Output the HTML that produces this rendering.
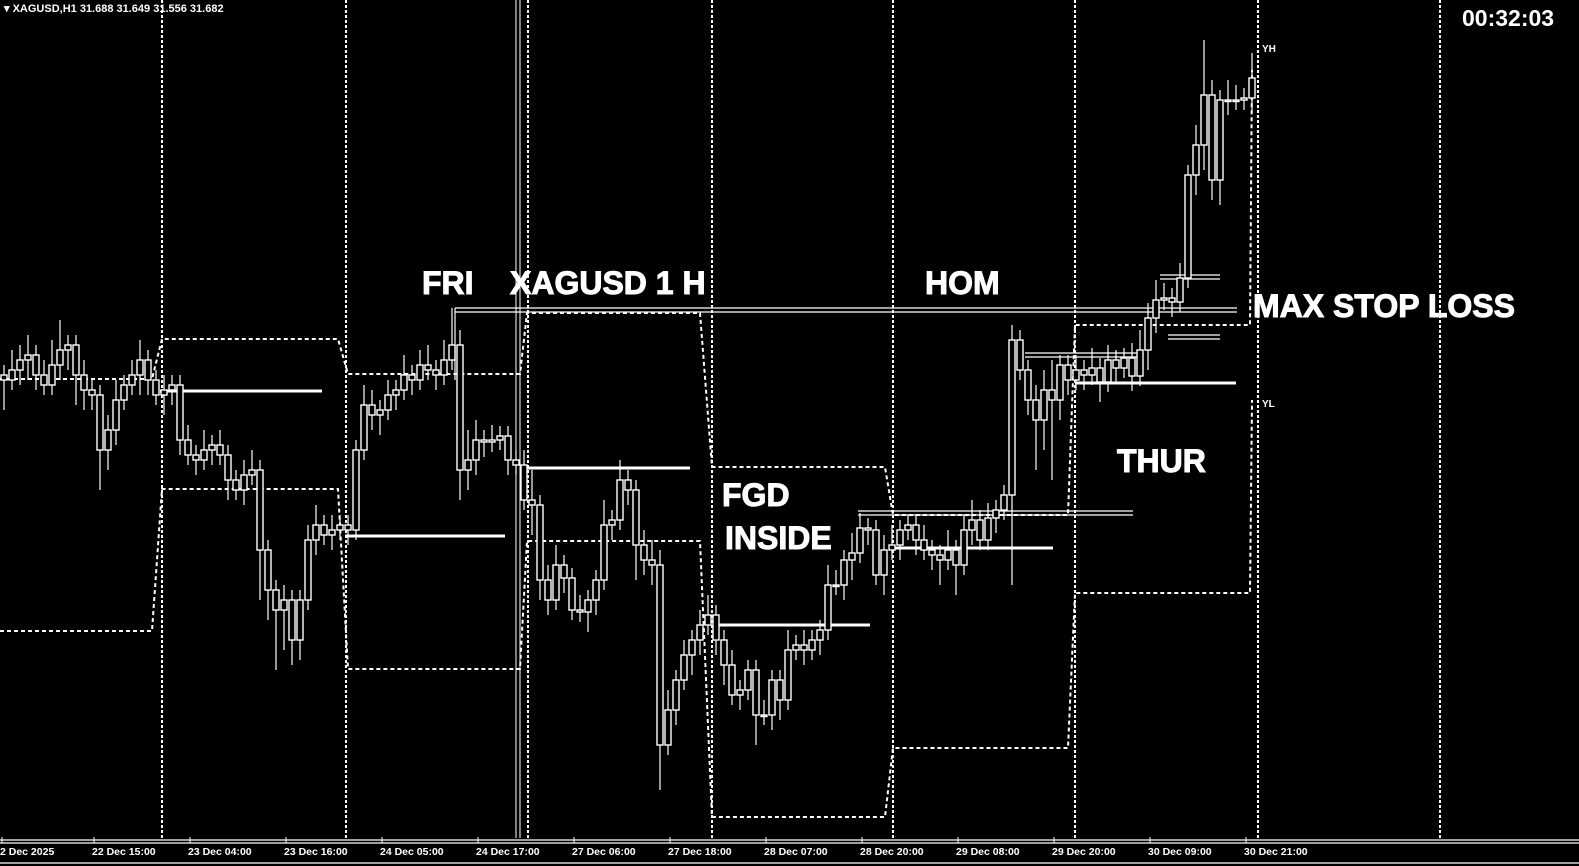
<!DOCTYPE html>
<html><head><meta charset="utf-8">
<style>
html,body{margin:0;padding:0;background:#000;width:1579px;height:866px;overflow:hidden}
svg{display:block}
.lbl{font-family:"Liberation Sans",sans-serif;font-weight:bold;fill:#fff}
.big{stroke:#fff;stroke-width:1}
</style></head>
<body>
<svg id="chart" width="1579" height="866" viewBox="0 0 1579 866" xmlns="http://www.w3.org/2000/svg">
<rect width="1579" height="866" fill="#000"/>
<g id="grid" stroke="#fff" stroke-width="2" stroke-dasharray="3,2">
<line x1="162" y1="0" x2="162" y2="838"/><line x1="346" y1="0" x2="346" y2="838"/>
<line x1="528" y1="0" x2="528" y2="838"/><line x1="712" y1="0" x2="712" y2="838"/>
<line x1="893" y1="0" x2="893" y2="838"/><line x1="1075" y1="0" x2="1075" y2="838"/>
<line x1="1258" y1="0" x2="1258" y2="838"/><line x1="1440" y1="0" x2="1440" y2="838"/>
</g>
<g stroke="#fff" stroke-width="1">
<line x1="516" y1="0" x2="516" y2="838"/><line x1="520" y1="0" x2="520" y2="838"/>
</g>
<g fill="none" stroke="#fff" stroke-width="2" stroke-dasharray="4,3">
<polyline points="0,379 152,379 162,339 338,339 348,374 520,374 527,313 700,313 712,467 885,467 893,515 1068,515 1075,325 1250,325 1252,70"/>
<polyline points="0,631 152,631 162,489 338,489 348,669 520,669 527,541 700,541 712,817 885,817 893,748 1068,748 1075,593 1250,593 1252,400"/>
</g>
<g stroke="#fff" stroke-width="3">
<line x1="160" y1="391" x2="322" y2="391"/><line x1="345" y1="536" x2="505" y2="536"/>
<line x1="520" y1="468" x2="690" y2="468"/><line x1="714" y1="625" x2="870" y2="625"/>
<line x1="893" y1="548" x2="1053" y2="548"/><line x1="1075" y1="383" x2="1236" y2="383"/>
</g>
<g stroke="#fff" stroke-width="1.2" fill="none">
<line x1="455" y1="308" x2="1237" y2="308"/><line x1="455" y1="312" x2="1237" y2="312"/>
<line x1="455" y1="308" x2="455" y2="380"/>
<line x1="858" y1="511" x2="1133" y2="511"/><line x1="858" y1="515" x2="1133" y2="515"/>
<line x1="1025" y1="353" x2="1140" y2="353"/><line x1="1025" y1="357" x2="1140" y2="357"/>
<line x1="1160" y1="275" x2="1220" y2="275"/><line x1="1160" y1="279" x2="1220" y2="279"/>
<line x1="1168" y1="335" x2="1220" y2="335"/><line x1="1168" y1="339" x2="1220" y2="339"/>
</g>
<g id="candles"></g>
<text class="lbl big" x="422" y="294" font-size="32">FRI</text>
<text class="lbl big" x="510" y="294" font-size="32">XAGUSD 1 H</text>
<text class="lbl big" x="925" y="294" font-size="32">HOM</text>
<text class="lbl big" x="1253" y="317" font-size="32">MAX STOP LOSS</text>
<text class="lbl big" x="1117" y="472" font-size="32">THUR</text>
<text class="lbl big" x="722" y="506" font-size="32">FGD</text>
<text class="lbl big" x="725" y="549" font-size="32">INSIDE</text>
<text class="lbl" x="1262" y="52" font-size="10">YH</text>
<text class="lbl" x="1262" y="407" font-size="10">YL</text>
<text class="lbl" x="4" y="12" font-size="11">▾ XAGUSD,H1  31.688 31.649 31.556 31.682</text>
<text class="lbl" x="1462" y="26" font-size="23">00:32:03</text>
<g stroke="#fff" stroke-width="1.2">
<line x1="0" y1="840" x2="1579" y2="840"/><line x1="0" y1="843" x2="1579" y2="843"/>
<line x1="0" y1="863" x2="1579" y2="863"/>
</g>
<g id="xticks"></g>
</svg>
<script>
const closes=[62.0,63.0,64.0,64.5,62.5,61.5,63.5,65.0,65.5,62.5,61.0,60.5,55.0,57.0,60.0,61.5,62.5,64.0,62.0,60.5,
61.0,61.5,56.0,54.5,54.0,55.0,55.5,54.5,52.0,51.0,52.5,53.0,45.0,41.0,39.0,40.0,36.0,40.0,46.0,47.5,
46.5,47.0,47.5,47.0,55.0,59.5,58.5,59.0,60.5,61.0,62.5,62.0,63.5,63.0,62.5,64.0,65.5,53.0,54.0,56.0,
55.8,56.0,56.4,54.0,53.5,50.0,49.5,42.0,40.0,43.5,42.2,39.0,38.8,40.0,42.0,47.5,48.0,52.0,51.0,45.5,
44.0,43.5,25.5,29.0,32.0,34.5,36.0,37.5,38.5,36.0,33.5,30.5,31.0,33.0,28.5,28.5,32.0,30.0,35.0,35.5,
35.0,36.0,37.0,41.5,41.5,44.0,44.7,47.2,47.0,42.5,45.0,45.5,47.0,47.5,46.0,45.0,44.5,44.0,45.0,43.5,
47.0,48.0,46.0,48.2,49.0,50.5,66.0,63.0,60.0,58.0,61.0,60.0,63.5,62.0,63.0,62.5,63.2,61.8,64.0,63.2,
64.2,62.4,65.0,68.2,70.0,70.2,69.8,72.2,82.5,85.5,90.5,82.0,90.0,90.0,90.0,90.2,92.2];
const upWick=[1,2,1.5,2,1,1.5,2.5,3,1,1,1.5,1,1,1.5,2,1,1.5,2,1,1,
1.5,1,1,1.5,1,2,1,1.5,1,1,1.5,2,1,1,1,1.5,1,1,1.5,2,
1,1.5,1,1,1,2,1.5,1,1.5,1,2,1,1.5,2,1,2,3.7,1.5,3,2,
1,1.5,1,1,1,1.5,3,1,1.5,2,1,1,1.5,1,1,2.5,1,2,1,1,
1.5,2,1.5,2,1,1.5,1,1.5,2,1,1,1.5,1,1,1,1.5,1,1,2,1,
1.5,1,1,2,1.5,1,2,1.5,1,1,1.5,2,1,1,1,1.5,1,1,2,1,
1.5,2,1,1.5,1,1,1.5,1,1,1.5,2,3,1,1,1.5,1,2,1,1.5,1,
1,1.5,2,1.5,2,1.5,1,1.5,1,2,5.5,1.5,1,2,1.5,1,2.5];
const downWick=[3,1,1.5,2,1.5,1,1,1.5,2,3,2,1.5,4,2,1.5,1,1,2,1.5,1,
2,1.5,1.5,1,1.5,1,1.5,1,2,1,1.5,1,5,3,6,4,2.5,2,1,1.5,
1,1.5,1,1.5,1,1,1.5,2,1,1.5,1,1.5,1,1,1.5,1,1,3,2,1.5,
1.5,1,1,1.5,1,1,3,2,1.5,1,1.5,1,1,2,1.5,1,1.5,1,1.5,3.5,
1.5,2,4.5,1,1.5,1,2,1.5,1,1.5,2,1,1.5,1,3,1,1.5,2,1,1,
1.5,1,1.5,1,1,1.5,2,1,1.5,1,2,1,1.5,1,1.5,1,1.5,2.5,1,3,
1,1.5,1,1,1.5,1,9,1,1.5,5,3,8,2,1.5,1,1.5,1,2,1,1.5,
1,1.5,1,2,1.5,1,1.5,1,1,2,2.5,2,2.5,1.5,1,1,1.5];
const firstOpen=62.5;
const tickLabels=["2 Dec 2025","22 Dec 15:00","23 Dec 04:00","23 Dec 16:00","24 Dec 05:00","24 Dec 17:00","27 Dec 06:00","27 Dec 18:00","28 Dec 07:00","28 Dec 20:00","29 Dec 08:00","29 Dec 20:00","30 Dec 09:00","30 Dec 21:00"];
const tickIndex=[-0.5,11,23,35,47,59,71,83,95,107,119,131,143,155];

const NS="http://www.w3.org/2000/svg";
function xPos(i){return 4+i*8;}
function yPos(p){return (100-p)*10;}
const g=document.getElementById('candles');
for(let i=0;i<closes.length;i++){
  const o=i===0?firstOpen:closes[i-1], c=closes[i];
  const top=Math.max(o,c), bot=Math.min(o,c);
  const hi=top+upWick[i], lo=bot-downWick[i];
  const x=xPos(i);
  const w=document.createElementNS(NS,'line');
  
  
  w.setAttribute('x1',x);w.setAttribute('x2',x);
  w.setAttribute('y1',yPos(hi));w.setAttribute('y2',yPos(lo));
  w.setAttribute('stroke','#fff');w.setAttribute('stroke-width','1.2');
  g.appendChild(w);
  const r=document.createElementNS(NS,'rect');
  
  
  r.setAttribute('x',x-3);r.setAttribute('width',6);
  r.setAttribute('y',yPos(top));r.setAttribute('height',Math.max(1.5,yPos(bot)-yPos(top)));
  r.setAttribute('fill','#000');r.setAttribute('stroke','#fff');r.setAttribute('stroke-width','1.4');
  g.appendChild(r);
}
const xt=document.getElementById('xticks');
for(let k=0;k<tickLabels.length;k++){
  const x=xPos(tickIndex[k]);
  const t=document.createElementNS(NS,'text');
  
  
  t.setAttribute('x',x);t.setAttribute('y',855);
  t.setAttribute('class','lbl');t.setAttribute('font-size','10.5');
  t.textContent=tickLabels[k];
  xt.appendChild(t);
  const m=document.createElementNS(NS,'line');
  
  
  m.setAttribute('x1',x+2);m.setAttribute('x2',x+2);m.setAttribute('y1',837);m.setAttribute('y2',843);
  m.setAttribute('stroke','#fff');
  xt.appendChild(m);
}
</script>
</body></html>
